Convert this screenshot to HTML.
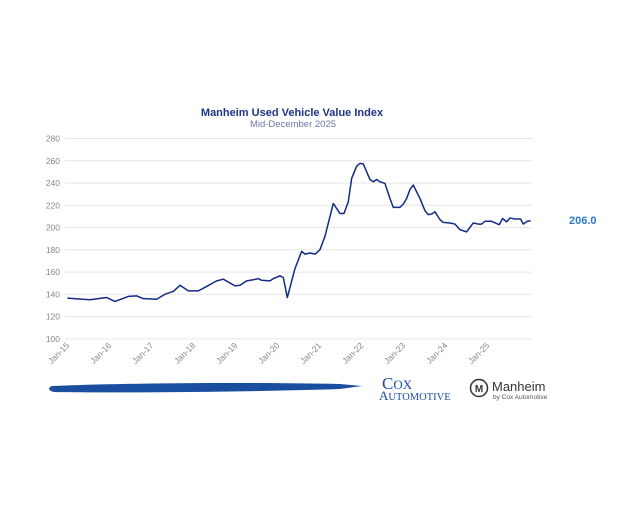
<!DOCTYPE html>
<html><head><meta charset="utf-8"><style>
html,body{margin:0;padding:0;background:#fff;width:640px;height:506px;overflow:hidden}
svg{display:block}
text{font-family:"Liberation Sans",sans-serif}
text.serif{font-family:"Liberation Serif",serif}
</style></head><body>
<svg width="640" height="506" viewBox="0 0 640 506" xmlns="http://www.w3.org/2000/svg">
<text x="292" y="116" text-anchor="middle" font-size="11" font-weight="bold" fill="#1e3487">Manheim Used Vehicle Value Index</text>
<text x="293" y="127" text-anchor="middle" font-size="9.5" fill="#6a7aa8">Mid-December 2025</text>
<g stroke="#e6e6e6" stroke-width="1">
<line x1="65" x2="532" y1="138.5" y2="138.5"/><line x1="65" x2="532" y1="160.8" y2="160.8"/>
<line x1="65" x2="532" y1="183" y2="183"/><line x1="65" x2="532" y1="205.3" y2="205.3"/>
<line x1="65" x2="532" y1="227.6" y2="227.6"/><line x1="65" x2="532" y1="249.8" y2="249.8"/>
<line x1="65" x2="532" y1="272.1" y2="272.1"/><line x1="65" x2="532" y1="294.4" y2="294.4"/>
<line x1="65" x2="532" y1="316.6" y2="316.6"/><line x1="65" x2="532" y1="338.9" y2="338.9"/>
</g>
<g font-size="8.5" fill="#888" text-anchor="end">
<text x="60" y="141.5">280</text><text x="60" y="163.8">260</text><text x="60" y="186">240</text>
<text x="60" y="208.3">220</text><text x="60" y="230.6">200</text><text x="60" y="252.8">180</text>
<text x="60" y="275.1">160</text><text x="60" y="297.4">140</text><text x="60" y="319.6">120</text>
<text x="60" y="341.9">100</text>
</g>
<g font-size="8.5" fill="#888" text-anchor="end">
<text transform="translate(70,346) rotate(-45)">Jan-15</text>
<text transform="translate(112,346) rotate(-45)">Jan-16</text>
<text transform="translate(154,346) rotate(-45)">Jan-17</text>
<text transform="translate(196,346) rotate(-45)">Jan-18</text>
<text transform="translate(238,346) rotate(-45)">Jan-19</text>
<text transform="translate(280,346) rotate(-45)">Jan-20</text>
<text transform="translate(322,346) rotate(-45)">Jan-21</text>
<text transform="translate(364,346) rotate(-45)">Jan-22</text>
<text transform="translate(406,346) rotate(-45)">Jan-23</text>
<text transform="translate(448,346) rotate(-45)">Jan-24</text>
<text transform="translate(490,346) rotate(-45)">Jan-25</text>
</g>
<g transform="matrix(0.3333,0,0,-1.1133,40,450.07)">
<polyline vector-effect="non-scaling-stroke" fill="none" stroke="#132a86" stroke-width="1.5" stroke-linejoin="round" points="82,136.5 150,135 200,137 225,133.5 265,138 290,138.5 310,136 350,135.5 375,140 400,142.5 420,148 445,143 475,143 500,147 530,152 550,153.5 585,147.5 600,148 620,152 640,153 655,154 665,152.5 690,152 700,154 720,156.5 730,155 742,137 765,163 785,178.5 795,176 810,177 825,176 840,180 855,192 880,221.5 900,212.5 912,212.5 925,223 935,244 950,255 960,257.5 970,257 980,250 990,243 1000,241 1010,243 1020,241 1035,239.5 1050,226 1060,218 1080,218 1090,221 1100,226 1110,234 1120,238 1140,226 1155,215 1165,211.5 1175,212 1185,214 1200,207 1210,204.5 1230,204 1245,203 1260,198 1280,196 1300,204 1315,203 1325,203 1335,205.5 1355,205.5 1378,202.5 1388,208 1400,205 1410,208.5 1425,207.5 1442,207.5 1450,203 1462,205.5 1472,206"/>
</g>
<text x="569" y="224" font-size="11" font-weight="bold" fill="#2a7bd0">206.0</text>
<path d="M52,386 C120,383 250,382 340,384 L362,386 L340,389 C250,392 120,393 54,392 C48,391 48,387 52,386 Z" fill="#1a4fa0"/>
<text class="serif" x="382" y="389" font-size="17" fill="#1a4fa0">C<tspan font-size="13">OX</tspan></text>
<text class="serif" x="379" y="400" font-size="13" fill="#1a4fa0">A<tspan font-size="10.5">UTOMOTIVE</tspan></text>
<circle cx="479" cy="388" r="8.5" fill="none" stroke="#333" stroke-width="1.5"/>
<text x="479" y="392" text-anchor="middle" font-size="10" font-weight="bold" fill="#333">M</text>
<text x="492" y="391" font-size="13" fill="#333">Manheim</text>
<text x="493" y="399" font-size="6.5" fill="#555">by Cox Automotive</text>
</svg>
</body></html>
